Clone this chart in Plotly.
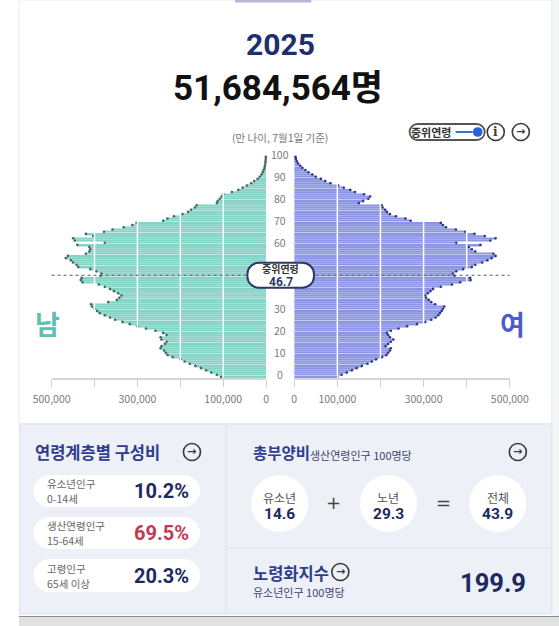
import plotly.graph_objects as go

# Layout positions below are written in picture pixels (559 x 626).
# The page is shown squeezed horizontally: picture_x = OFF + SC * figure_x.
W, H = 559, 626
OFF, SC = 19.5, 0.932
FW = 580

# ---------------- data ----------------
ages = list(range(0, 101))
male = [105000, 115000, 128000, 140000, 152000, 165000, 178000, 190000, 200000, 218000,
        230000, 234000, 238000, 246000, 244000, 236000, 232000, 244000, 246000, 232000,
        240000, 258000, 280000, 300000, 318000, 335000, 352000, 364000, 376000, 388000,
        394000, 400000, 406000, 408000, 368000, 348000, 342000, 337000, 345000, 355000,
        364000, 376000, 390000, 428000, 432000, 430000, 386000, 384000, 396000, 410000,
        438000, 442000, 450000, 455000, 467000, 462000, 420000, 412000, 410000, 412000,
        440000, 376000, 446000, 450000, 403000, 420000, 378000, 358000, 332000, 312000,
        302000, 240000, 230000, 215000, 195000, 182000, 175000, 166000, 162000, 115000,
        113000, 108000, 104000, 100000, 80000, 65000, 55000, 45000, 35000, 28000,
        20000, 15000, 11000, 8000, 6000, 4000, 3000, 2000, 1500, 1000, 800]
female = [100000, 110000, 122000, 134000, 145000, 157000, 170000, 180000, 190000, 204000,
          214000, 218000, 222000, 224000, 212000, 218000, 224000, 230000, 222000, 218000,
          215000, 224000, 242000, 262000, 285000, 304000, 318000, 328000, 334000, 338000,
          342000, 345000, 348000, 327000, 318000, 312000, 306000, 304000, 310000, 316000,
          322000, 340000, 366000, 385000, 409000, 408000, 372000, 368000, 376000, 392000,
          412000, 420000, 436000, 448000, 458000, 467000, 462000, 420000, 412000, 405000,
          432000, 376000, 455000, 467000, 442000, 418000, 397000, 375000, 352000, 345000,
          340000, 270000, 258000, 236000, 222000, 215000, 211000, 205000, 203000, 150000,
          160000, 172000, 176000, 162000, 141000, 130000, 115000, 102000, 84000, 72000,
          62000, 50000, 42000, 33000, 26000, 19000, 14000, 9000, 6000, 4000, 3000]

year_label = "2025"
total_label = "51,684,564명"
basis_label = "(만 나이, 7월1일 기준)"
median_age = 46.7

x_tickvals = [0, 100000, 200000, 300000, 400000, 500000]
x_ticktext = ["0", "100,000", "", "300,000", "", "500,000"]
age_ticks = [0, 10, 20, 30, 40, 50, 60, 70, 80, 90, 100]

comp_groups = ["유소년인구", "생산연령인구", "고령인구"]
comp_ranges = ["0-14세", "15-64세", "65세 이상"]
comp_values = ["10.2%", "69.5%", "20.3%"]

dep_labels = ["유소년", "노년", "전체"]
dep_values = ["14.6", "29.3", "43.9"]
aging_index = "199.9"

# ---------------- styles ----------------
KR = "Noto Sans CJK KR"
NUM = "Roboto, Noto Sans CJK KR"
NAVY = "#1c2a60"
TITLE = "#2f3d8c"
GRAY = "#7a7a7a"
MALE_C = "#83d3c6"
FEMALE_C = "#8c95e4"


def px(x):
    return ((x - OFF) / SC) / FW


def py(y):
    return 1 - y / H


def rrect_path(x0, y0, x1, y1, r):
    k = 0.5523 * r
    pts = [
        ("M", [(x0 + r, y0)]),
        ("L", [(x1 - r, y0)]),
        ("C", [(x1 - r + k, y0), (x1, y0 + r - k), (x1, y0 + r)]),
        ("L", [(x1, y1 - r)]),
        ("C", [(x1, y1 - r + k), (x1 - r + k, y1), (x1 - r, y1)]),
        ("L", [(x0 + r, y1)]),
        ("C", [(x0 + r - k, y1), (x0, y1 - r + k), (x0, y1 - r)]),
        ("L", [(x0, y0 + r)]),
        ("C", [(x0, y0 + r - k), (x0 + r - k, y0), (x0 + r, y0)]),
    ]
    s = ""
    for cmd, ps in pts:
        s += cmd + " " + " ".join(f"{px(a):.5f},{py(b):.5f}" for a, b in ps) + " "
    return s + "Z"


def rrect_pixel_path(w, h, r):
    k = 0.5523 * r
    x0, x1, y0, y1 = -w / 2, w / 2, -h / 2, h / 2

    def X(v):
        return f"{v / SC:.2f}"

    segs = [
        f"M {X(x0 + r)},{y0}", f"L {X(x1 - r)},{y0}",
        f"C {X(x1 - r + k)},{y0} {X(x1)},{y0 + r - k} {X(x1)},{y0 + r}",
        f"L {X(x1)},{y1 - r}",
        f"C {X(x1)},{y1 - r + k} {X(x1 - r + k)},{y1} {X(x1 - r)},{y1}",
        f"L {X(x0 + r)},{y1}",
        f"C {X(x0 + r - k)},{y1} {X(x0)},{y1 - r + k} {X(x0)},{y1 - r}",
        f"L {X(x0)},{y0 + r}",
        f"C {X(x0)},{y0 + r - k} {X(x0 + r - k)},{y0} {X(x0 + r)},{y0}", "Z",
    ]
    return " ".join(segs)


shapes = []
annotations = []


def rect(x0, y0, x1, y1, fill, line=None, lw=1, layer="below"):
    shapes.append(dict(type="rect", xref="paper", yref="paper",
                       x0=px(x0), x1=px(x1), y0=py(y1), y1=py(y0),
                       fillcolor=fill, line=dict(color=line or fill, width=lw if line else 0),
                       layer=layer))


def rrect(x0, y0, x1, y1, r, fill, line=None, lw=1, layer="below"):
    shapes.append(dict(type="path", xref="paper", yref="paper",
                       path=rrect_path(x0, y0, x1, y1, r), fillcolor=fill,
                       line=dict(color=line or fill, width=lw if line else 0), layer=layer))


def circle(cx, cy, r, fill, line=None, lw=1, layer="above"):
    shapes.append(dict(type="circle", xref="paper", yref="paper",
                       x0=px(cx - r), x1=px(cx + r), y0=py(cy + r), y1=py(cy - r),
                       fillcolor=fill, line=dict(color=line or fill, width=lw if line else 0),
                       layer=layer))


def hline(x0, x1, y, color, lw=1, dash="solid", layer="above"):
    shapes.append(dict(type="line", xref="paper", yref="paper",
                       x0=px(x0), x1=px(x1), y0=py(y), y1=py(y),
                       line=dict(color=color, width=lw, dash=dash), layer=layer))


def text(x, y, t, size, color, family=KR, xanchor="center", bold=False):
    if bold:
        t = f"<b>{t}</b>"
    annotations.append(dict(x=px(x), y=py(y), xref="paper", yref="paper", text=t,
                            showarrow=False, xanchor=xanchor, yanchor="middle",
                            font=dict(size=size, color=color, family=family)))


def arrow_icon(cx, cy, r=8.5):
    circle(cx, cy, r, "rgba(0,0,0,0)", "#3a3a3a", 1.6)
    text(cx, cy - 0.5, "→", 11, "#3a3a3a", family="DejaVu Sans", bold=True)


# ---------------- backgrounds ----------------
shapes.append(dict(type="rect", xref="paper", yref="paper", x0=px(551.5), x1=1.0,
                   y0=py(616), y1=1.0, fillcolor="#f4f5f7", line=dict(width=0),
                   layer="below"))
rect(OFF, 0, 551, 424, "#ffffff", "#e6e8ee", 1)
rect(235, 0, 311, 2.5, "#b5b7d4")
rect(OFF + 0.5, 424, 551, 614, "#edf0f7", "#dde1ec", 1)
shapes.append(dict(type="line", xref="paper", yref="paper", x0=px(226), x1=px(226),
                   y0=py(424), y1=py(614), line=dict(color="#dde1ec", width=1), layer="below"))
hline(226, 551, 548, "#dde1ec", 1, layer="below")
rect(OFF, 616, 559, 626, "#e1e1e1")
hline(OFF, 559, 616.5, "#8f8f8f", 1.2, layer="below")

# ---------------- header ----------------
text(280, 45, year_label, 30, "#1f2f6b", family=NUM, bold=True)
text(278, 88, total_label, 35, "#111111", family=NUM, bold=True)
text(280, 137, basis_label, 10.5, "#777777")

# toggle + icons
rrect(409, 124, 484, 140, 8, "#ffffff", "#555555", 1.8, layer="above")
text(430, 132, "중위연령", 11, "#333333", bold=True)
hline(455, 472, 132, "#3a6fd8", 2)
circle(477, 132, 4.8, "#2563d6")
circle(495, 132, 8.5, "rgba(0,0,0,0)", "#3a3a3a", 1.6)
text(495, 132, "i", 12, "#3a3a3a", family="DejaVu Serif", bold=True)
arrow_icon(520, 132)

# ---------------- pyramid ----------------
fig = go.Figure()
fig.add_trace(go.Bar(x=male, y=ages, orientation="h", xaxis="x", yaxis="y",
                     marker=dict(color=MALE_C, line=dict(width=0)), hoverinfo="skip"))
fig.add_trace(go.Bar(x=female, y=ages, orientation="h", xaxis="x2", yaxis="y",
                     marker=dict(color=FEMALE_C, line=dict(width=0)), hoverinfo="skip"))
fig.add_trace(go.Scatter(x=male, y=ages, mode="markers", xaxis="x", yaxis="y",
                         marker=dict(size=2.6, color="#43675f"), cliponaxis=False,
                         hoverinfo="skip"))
fig.add_trace(go.Scatter(x=female, y=ages, mode="markers", xaxis="x2", yaxis="y",
                         marker=dict(size=2.6, color="#2c3684"), cliponaxis=False,
                         hoverinfo="skip"))

# white gridlines drawn over the bars
for xr in ["x", "x2"]:
    for v in x_tickvals[1:-1]:
        shapes.append(dict(type="line", xref=xr, yref="paper", x0=v, x1=v,
                           y0=py(378), y1=py(157), line=dict(color="#ffffff", width=1.5),
                           layer="above"))

# median line & pill
med_y = median_age - 0.5
shapes.append(dict(type="line", xref="paper", yref="y", x0=px(52), x1=px(509),
                   y0=med_y, y1=med_y, line=dict(color="#5a5a5a", width=1, dash="dot"),
                   layer="above"))
shapes.append(dict(type="path", xref="paper", yref="y", xsizemode="pixel", ysizemode="pixel",
                   xanchor=px(280.5), yanchor=med_y, path=rrect_pixel_path(62, 25, 11),
                   fillcolor="#ffffff", line=dict(color="#2c3766", width=2), layer="above"))
annotations.append(dict(x=px(280.5), y=med_y, xref="paper", yref="y", yshift=6.5,
                        text="<b>중위연령</b>", showarrow=False,
                        font=dict(size=10, color="#333333", family=KR)))
annotations.append(dict(x=px(280.5), y=med_y, xref="paper", yref="y", yshift=-7,
                        text=f"<b>{median_age}</b>", showarrow=False,
                        font=dict(size=12, color="#2c3766", family=NUM)))

# age labels in the centre gap (the ones under the median pill are hidden by it)
for a in age_ticks:
    if abs((a + 1.3) - med_y) * 2.2 < 13:
        continue
    annotations.append(dict(x=px(280), y=a + 1.3, xref="paper", yref="y", text=str(a),
                            showarrow=False, font=dict(size=10.5, color=GRAY, family=KR)))

text(48, 323, "남", 27, "#5fbfae", bold=True)
text(512, 324, "여", 27, "#4b5bcc", bold=True)

# ---------------- composition panel ----------------
text(33, 452, "연령계층별 구성비", 16.5, TITLE, xanchor="left", bold=True)
arrow_icon(192, 452)
pill_rows = [(475, 507), (517, 549), (559, 592)]
for (y0, y1), g, rg, v in zip(pill_rows, comp_groups, comp_ranges, comp_values):
    rrect(34, y0, 200, y1, 16, "#ffffff", layer="above")
    cy = (y0 + y1) / 2
    text(45, cy - 7.5, g, 10.5, "#666666", xanchor="left")
    text(45, cy + 7.5, rg, 10.5, "#666666", xanchor="left")
    col = "#c63a51" if g == "생산연령인구" else NAVY
    text(191, cy, v, 20, col, family=NUM, xanchor="right", bold=True)

# ---------------- dependency panel ----------------
text(251, 452, "총부양비", 15.5, TITLE, xanchor="left", bold=True)
text(308, 455, "생산연령인구 100명당", 11, "#3d4670", xanchor="left")
arrow_icon(517, 452)
circ_x = [279.5, 388, 497]
for cx, lab, val in zip(circ_x, dep_labels, dep_values):
    circle(cx, 503.5, 28.5, "#ffffff", layer="above")
    text(cx, 497, lab, 12, "#555555")
    text(cx, 514, val, 15.5, NAVY, family=NUM, bold=True)
text(333.5, 502, "+", 18, "#444444", family="DejaVu Sans")
text(443, 502, "=", 18, "#444444", family="DejaVu Sans")

text(251, 573, "노령화지수", 16.5, TITLE, xanchor="left", bold=True)
arrow_icon(340, 572)
text(251, 592, "유소년인구 100명당", 11, "#3d4670", xanchor="left")
text(527, 583, aging_index, 25.5, NAVY, family=NUM, xanchor="right", bold=True)

# ---------------- layout ----------------
axis_common = dict(showgrid=False, zeroline=False, showline=True, linecolor="#d6d6d6",
                   linewidth=1.5, ticks="outside", ticklen=7, tickcolor="#cfcfcf",
                   tickwidth=1.2, tickvals=x_tickvals, ticktext=x_ticktext,
                   tickfont=dict(size=10.5, color=GRAY, family=KR), ticklabelstandoff=4,
                   fixedrange=True)
fig.update_layout(
    width=FW, height=H, margin=dict(l=0, r=0, t=0, b=0),
    paper_bgcolor="#ffffff", plot_bgcolor="rgba(0,0,0,0)",
    showlegend=False, barmode="overlay", bargap=0.22, hovermode=False,
    xaxis=dict(domain=[px(52), px(266)], range=[500000, 0], anchor="y", **axis_common),
    xaxis2=dict(domain=[px(294), px(509)], range=[0, 500000], anchor="y", **axis_common),
    yaxis=dict(domain=[py(378), py(153.6)], range=[-0.5, 101.5], visible=False,
               fixedrange=True),
    shapes=shapes, annotations=annotations,
)

fig.write_html("out.html")
